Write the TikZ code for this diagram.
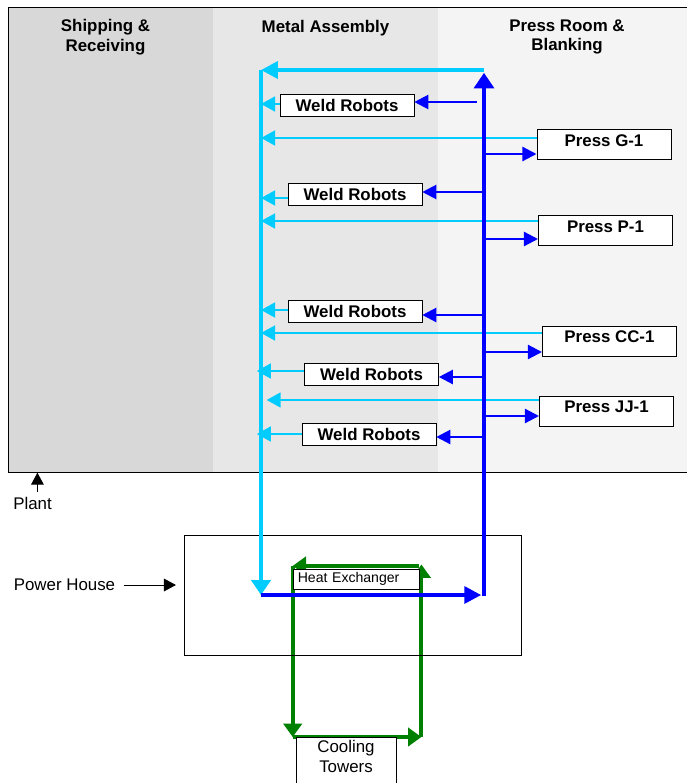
\documentclass[tikz,border=0pt]{standalone}
\usepackage{fontspec}
\setmainfont{Liberation Sans}
\usetikzlibrary{arrows.meta,backgrounds}

\definecolor{shipfill}{RGB}{216,216,216}
\definecolor{metalfill}{RGB}{231,231,231}
\definecolor{pressfill}{RGB}{244,244,244}
\definecolor{retcol}{RGB}{0,204,255}
\definecolor{supcol}{RGB}{0,0,255}
\definecolor{coolcol}{RGB}{0,128,0}

\tikzset{
  bx/.style={draw, fill=white, inner sep=0pt, font=\bfseries\fontsize{12}{14}\selectfont},
  weld/.style={bx, minimum width=3.35cm, minimum height=0.56cm},
  press/.style={bx, minimum width=3.36cm, minimum height=0.74cm, text height=8.6pt, text depth=6pt},
  zonelbl/.style={font=\bfseries\fontsize{12}{14}\selectfont, align=center},
  retline/.style={retcol, line width=1.7pt, -{Triangle[length=10pt,width=10.5pt]}},
  supline/.style={supcol, line width=1.6pt, -{Triangle[length=10pt,width=10pt]}},
  coolline/.style={coolcol, line width=2.8pt, -{Triangle[length=9.5pt,width=13pt]}},
  callout/.style={black, line width=0.6pt, -{Triangle[length=8.5pt,width=9pt]}}
}

\begin{document}
\begin{tikzpicture}[x=0.025cm, y=-0.025cm, font=\fontsize{12}{14.4}\selectfont]
  \useasboundingbox (0,0) rectangle (686,783);
  % plant zones
  \fill[shipfill] (8,7) rectangle (213,472);
  \fill[metalfill] (213,7) rectangle (438,472);
  \fill[pressfill] (438,7) rectangle (690,472);
  \node[draw, minimum width=17.05cm, minimum height=11.625cm, anchor=north west] (plant) at (8,7) {};
  \node[zonelbl] (ship) at (105.5,37) {Shipping \&\\Receiving};
  \node[zonelbl] (metal) at (325.5,28) {Metal Assembly};
  \node[zonelbl] (pressroom) at (567,37) {Press Room \&\\Blanking};

  % machines
  \node[weld] (W1) at (347,105.5) {Weld Robots};
  \node[weld] (W2) at (355,194.5) {Weld Robots};
  \node[weld] (W3) at (355,311) {Weld Robots};
  \node[weld] (W4) at (371.5,374) {Weld Robots};
  \node[weld] (W5) at (369,434.5) {Weld Robots};
  \node[press] (PG) at (604,144.5) {Press G-1};
  \node[press] (PP) at (605.5,230.5) {Press P-1};
  \node[press] (PCC) at (609.5,341) {Press CC-1};
  \node[press] (PJJ) at (606.5,411) {Press JJ-1};

  % power house
  \node[draw, minimum width=8.425cm, minimum height=3cm] (ph) at (352.5,595) {};
  \node[draw, fill=white, inner xsep=0.12cm, inner ysep=0pt, minimum height=0.5cm,
        text width=2.91cm, align=left, font=\fontsize{10}{12}\selectfont] (hx) at (356,579) {Heat Exchanger};
  \node[draw, fill=white, anchor=north, minimum width=2.5cm, inner ysep=2pt,
        align=center, text depth=18pt] (ct) at (346,737) {Cooling\\Towers};

  \node (plantlbl) at (32.5,503) {Plant};
  \coordinate (pa) at ([xshift=3.5pt]plantlbl.north);
  \draw[callout] (pa) -- (pa |- plant.south);
  \node (phlbl) at (64.5,585) {Power House};
  \draw[callout, shorten <=2.5pt, shorten >=5.5pt] (phlbl.east) -- (phlbl.east -| ph.west);

  % return (cyan) and supply (blue) mains
  \coordinate (St) at (484,70);
  \coordinate (R) at (261,70);
  \coordinate (C) at (261,595);
  \coordinate (D) at (484,595);
  \coordinate (S) at (484,300);

  \draw[retline] (W1.west |- 0,104) -- (R |- 0,104);
  \draw[retline] (W2.west |- 0,198) -- (R |- 0,198);
  \draw[retline] (W3.west |- 0,310) -- (R |- 0,310);
  \draw[retline] (W4.west |- 0,371) -- ([xshift=-3pt]R |- 0,371);
  \draw[retline] (W5.west |- 0,434) -- ([xshift=-3pt]R |- 0,434);
  \draw[retline] (PG.west |- 0,138) -- (R |- 0,138);
  \draw[retline] (PP.west |- 0,221) -- (R |- 0,221);
  \draw[retline] (PCC.west |- 0,333) -- (R |- 0,333);
  \draw[retline] (PJJ.west |- 0,400) -- ([xshift=4pt]R |- 0,400);
  \draw[retcol, line width=2.8pt, -{Triangle[length=12pt,width=12pt]}] (St) -- (R);
  \draw[retcol, line width=2.4pt, -{Triangle[length=10.5pt,width=13.5pt]}] (R) -- (C);

  \draw[supline] ([xshift=-5pt]S |- 0,102) -- (W1.east |- 0,102);
  \draw[supline] (S |- 0,192) -- (W2.east |- 0,192);
  \draw[supline] (S |- 0,315) -- (W3.east |- 0,315);
  \draw[supline] (S |- 0,377) -- (W4.east |- 0,377);
  \draw[supline] (S |- 0,437) -- (W5.east |- 0,437);
  \draw[supline] (S |- 0,154) -- (PG.west |- 0,154);
  \draw[supline] (S |- 0,239) -- (PP.west |- 0,239);
  \draw[supline] (S |- 0,352) -- (PCC.west |- 0,352);
  \draw[supline] (S |- 0,416) -- (PJJ.west |- 0,416);
  \draw[supcol, line width=2.6pt, shorten >=2pt, -{Triangle[length=12pt,width=12pt]}] (C) -- (D);
  \draw[supcol, line width=3pt, -{Triangle[length=11pt,width=14pt]}] ([yshift=-1pt]D) -- ([yshift=-2pt]St);

  % cooling water loop, behind the heat exchanger box
  \begin{scope}[on background layer]
    \draw[coolline] ([yshift=2pt]hx.north east) -- ([yshift=2pt]hx.north west);
    \draw[coolline] ([yshift=2pt]hx.north west) -- (hx.north west |- ct.north);
    \draw[coolline] (hx.north west |- ct.north) -- ([xshift=1.5pt]hx.north east |- ct.north);
    \draw[coolline] ([xshift=1.5pt]hx.north east |- ct.north) -- ([xshift=1.5pt,yshift=3pt]hx.north east);
  \end{scope}
\end{tikzpicture}
\end{document}
